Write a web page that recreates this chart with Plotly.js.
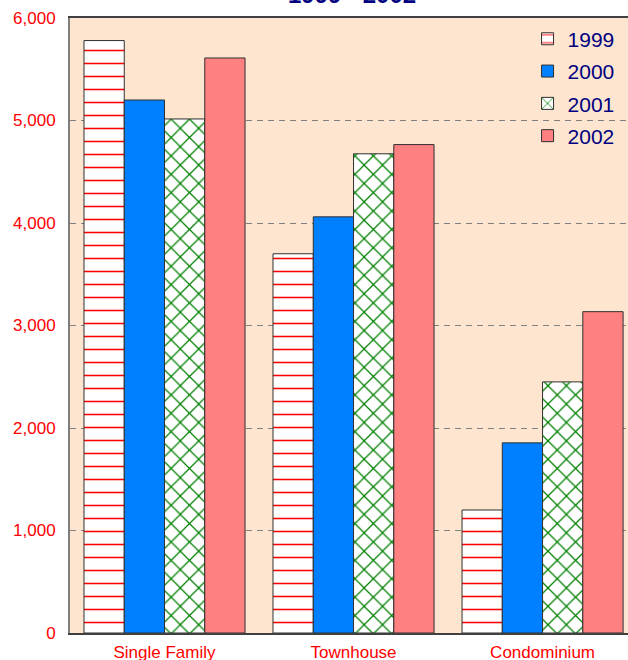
<!DOCTYPE html>
<html>
<head>
<meta charset="utf-8">
<script src="https://cdn.plot.ly/plotly-3.0.1.min.js"></script>
<style>html,body{margin:0;padding:0;background:#fff;overflow:hidden;}#chart{width:628px;height:660px;}</style>
</head>
<body>
<div id="chart"></div>
<script>
const categories = ["Single Family", "Townhouse", "Condominium"];
const years = ["1999", "2000", "2001", "2002"];
const values1999 = [5780, 3700, 1200];
const values2000 = [5200, 4060, 1855];
const values2001 = [5015, 4675, 2450];
const values2002 = [5610, 4765, 3135];
const yTickVals = [0, 1000, 2000, 3000, 4000, 5000, 6000];
const yTickText = ["0", "1,000", "2,000", "3,000", "4,000", "5,000", "6,000"];
const chartTitle = "1999 - 2002";

const outline = {color: "#303030", width: 1};
const traces = [
  {name: years[0], legendgroup: "g0", x: categories, y: values1999, type: "bar",
   marker: {color: "#ffffff", line: outline,
            pattern: {shape: "-", fgcolor: "#ff0000", bgcolor: "#ffffff", size: 13, solidity: 0.12}}},
  {name: years[1], legendgroup: "g1", x: categories, y: values2000, type: "bar",
   marker: {color: "#0080ff", line: outline}},
  {name: years[2], legendgroup: "g2", x: categories, y: values2001, type: "bar",
   marker: {color: "#ffffff", line: outline,
            pattern: {shape: "x", fgcolor: "#008000", bgcolor: "#ffffff", size: 13, solidity: 0.18}}},
  {name: years[3], legendgroup: "g3", x: categories, y: values2002, type: "bar",
   marker: {color: "#ff8080", line: outline}}
];

const layout = {
  width: 628, height: 660,
  margin: {l: 70, r: 0, t: 18, b: 27, pad: 0},
  paper_bgcolor: "#ffffff",
  plot_bgcolor: "#fde5cf",
  font: {family: "Arial, 'Liberation Sans', sans-serif"},
  annotations: [{text: "<b>" + chartTitle + "</b>", font: {size: 24, color: "#000080"},
                 xref: "paper", yref: "paper", x: 0.505, y: 1.039, xanchor: "center", yanchor: "middle",
                 showarrow: false}],
  barmode: "group",
  bargap: 0.148,
  bargroupgap: 0,
  showlegend: true,
  legend: {x: 0.82, y: 0.999, xanchor: "left", yanchor: "top", bgcolor: "rgba(0,0,0,0)",
           font: {size: 21, color: "#000080"}, traceorder: "grouped", tracegroupgap: 2, itemwidth: 30},
  xaxis: {range: [-0.5, 2.452], automargin: false, showgrid: false,
          showline: true, linecolor: "#404040", linewidth: 2, mirror: true,
          ticks: "", ticklabelstandoff: 3, tickfont: {size: 17, color: "#ff0000"}, fixedrange: true},
  yaxis: {range: [0, 6000], automargin: false, tickvals: yTickVals, ticktext: yTickText,
          showgrid: true, gridcolor: "#808080", gridwidth: 1, griddash: "6px,5px",
          showline: true, linecolor: "#808080", linewidth: 2, zeroline: false,
          ticks: "", ticklabelstandoff: 9, tickfont: {size: 17, color: "#ff0000"}, fixedrange: true}
};

Plotly.newPlot("chart", traces, layout, {displayModeBar: false, staticPlot: true});
</script>
</body>
</html>
